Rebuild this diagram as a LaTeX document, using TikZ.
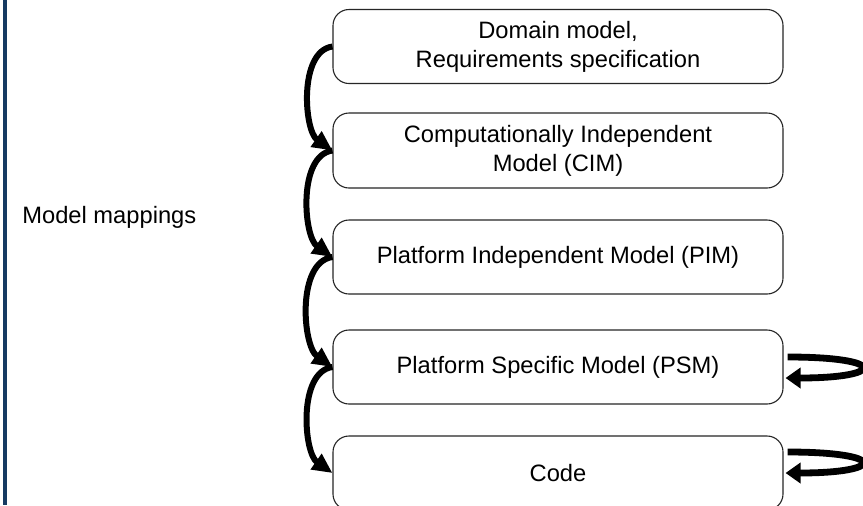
\documentclass[tikz,border=0pt]{standalone}
\usepackage{fontspec}
\setmainfont{Liberation Sans}
\usetikzlibrary{arrows.meta}
\definecolor{navyline}{RGB}{22,58,98}
\begin{document}
\begin{tikzpicture}[x=0.5pt,y=-0.5pt,
  txt/.style={font=\fontsize{11.85}{14.5}\selectfont},
  box/.style={txt, draw=black!85, line width=0.55pt, rounded corners=8pt,
    minimum width=225pt, minimum height=37pt, align=center, inner sep=0pt},
  maparrow/.style={line width=3pt, -{Triangle[length=10pt,width=9pt]}},
  looparrow/.style={line width=3.4pt, -{Triangle[length=7.5pt,width=10pt]}},
]
\clip (0,0) rectangle (863,505);
\fill[white] (0,0) rectangle (863,505);
\draw[navyline, line width=2pt] (4.5,0) -- (4.5,505);
\node[txt, anchor=base west, inner sep=0pt] (lbl) at (22,223) {Model mappings};
\node[box] (dm) at (558,46.5) {Domain model,\\Requirements specification};
\node[box, minimum height=37.5pt] (cim) at (558,150.5) {Computationally Independent\\Model (CIM)};
\node[box] (pim) at (558,257) {Platform Independent Model (PIM)};
\node[box] (psm) at (558,367) {Platform Specific Model (PSM)};
\node[box] (code) at (558,473) {Code};
\draw[maparrow] (dm.west) to[out=188,in=145,looseness=0.85] (cim.west);
\draw[maparrow] (cim.west) to[out=188,in=145,looseness=0.85] (pim.west);
\draw[maparrow] (pim.west) to[out=188,in=145,looseness=0.85] (psm.west);
\draw[maparrow] (psm.west) to[out=188,in=145,looseness=0.85] (code.west);
\draw[looparrow] ([shift={(4,-10)}]psm.east) .. controls +(100,0) and +(100,0) .. ([shift={(2,11)}]psm.east);
\draw[looparrow] ([shift={(4,-21)}]code.east) .. controls +(100,0) and +(100,0) .. ([shift={(2,0)}]code.east);
\end{tikzpicture}
\end{document}
